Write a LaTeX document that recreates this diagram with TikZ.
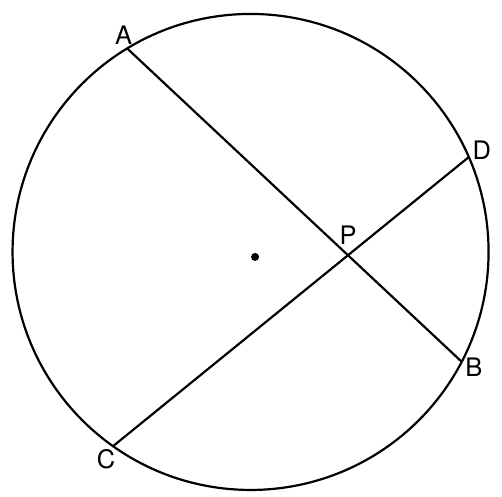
\documentclass[tikz,border=0pt]{standalone}
\usepackage{fontspec}
\setmainfont{TeX Gyre Heros}
\begin{document}
\begin{tikzpicture}[scale=0.02, line width=1.25pt, font=\fontsize{14.5}{17}\selectfont]
        \useasboundingbox (0,0) rectangle (502,496);

        % Circunferencia
        \coordinate (O) at (250.5,244);
        \draw (O) circle (238);

        % Puntos sobre la circunferencia
        \path (O) ++(121.25:238) coordinate (A);
        \path (O) ++(-27.5:238) coordinate (B);
        \path (O) ++(234.7:238) coordinate (C);
        \path (O) ++(23.5:238) coordinate (D);

        % Cuerdas
        \draw (A) -- (B);
        \draw (C) -- (D);
        \coordinate (P) at (intersection of A--B and C--D);

        % Punto interior
        \coordinate (M) at (255,239);
        \fill (M) circle (4);

        % Etiquetas
        \node[above, xshift=-2pt, inner sep=1.5pt] (lA) at (A) {A};
        \node[right, yshift=-3pt, inner sep=1.5pt] (lB) at (B) {B};
        \node[below, xshift=-4pt, inner sep=1.5pt] (lC) at (C) {C};
        \node[right, yshift=4pt, inner sep=1.5pt] (lD) at (D) {D};
        \node[above, yshift=4pt, inner sep=1.5pt] (lP) at (P) {P};
    \end{tikzpicture}
\end{document}
